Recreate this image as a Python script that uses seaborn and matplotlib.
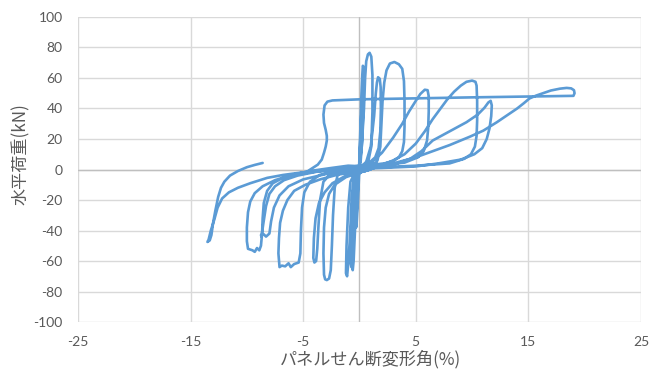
import matplotlib
matplotlib.use("Agg")
import matplotlib.pyplot as plt
import seaborn as sns
import pandas as pd

# ---- hysteresis record: panel shear deformation angle (%) vs horizontal load (kN) ----
# Each cycle is listed as the path it traces, in loading order.
cycle1_x = [0.0, 0.05, 0.15, 0.2, 0.1, 0.0, -0.1, -0.25, -0.3, -0.2, -0.05]
cycle1_y = [0, 15, 35, 38, 20, 3, -15, -35, -38, -20, -2]

cycle2_x = [0.05, 0.15, 0.25, 0.3, 0.38, 0.35, 0.25, 0.1, -0.1, -0.25, -0.4, -0.52, -0.6, -0.66, -0.6, -0.45, -0.2, 0.0]
cycle2_y = [20, 45, 62, 68, 67, 45, 20, 5, 0, -15, -40, -60, -66, -63, -40, -15, -3, 2]

cycle3_x = [0.2, 0.4, 0.5, 0.6, 0.75, 0.9, 1.05, 1.15, 1.15, 1.05, 0.8, 0.3, -0.2, -0.5, -0.7, -0.85, -1.0, -1.1,
            -1.2, -1.15, -1.0, -0.8, -0.4, 0.1]
cycle3_y = [15, 40, 60, 71, 75.5, 76.5, 74, 62, 38, 15, 6, 3, 1, -5, -20, -45, -62, -70,
            -68, -50, -25, -8, -2, 0]

cycle4_x = [0.6, 1.0, 1.3, 1.45, 1.55, 1.65, 1.8, 1.88, 1.9, 1.85, 1.7, 1.4, 0.8, 0.0, -0.3, -0.45, -0.6, -0.72,
            -0.8, -0.75, -0.6, -0.3, 0.3]
cycle4_y = [5, 15, 35, 50, 57, 60.5, 59.5, 54, 40, 25, 14, 8, 4, 2, -5, -25, -50, -64,
            -60, -40, -15, -4, -1]

cycle5_x = [1.2, 1.6, 1.85, 1.95, 2.05, 2.2, 2.4, 2.7, 3.1, 3.5, 3.8, 3.95, 4.0, 4.0, 3.95, 3.8, 3.5, 3.0,
            2.2, 1.0, -0.5, -1.5, -1.95, -2.2, -2.35, -2.45, -2.55, -2.7, -2.9, -3.05, -3.15, -3.2, -3.15,
            -3.0, -2.7, -2.2, -1.2, 0.0, 1.0]
cycle5_y = [2, 6, 15, 30, 45, 57, 65, 69.5, 70.5, 69, 66, 58, 45, 28, 18, 12, 8, 5.5,
            4, 3, 1.5, 0, -4, -12, -30, -50, -66, -71.5, -72.5, -72, -69, -55, -38,
            -25, -16, -10, -5, -2, 0]

cycle6_x = [1.0, 2.0, 3.0, 3.8, 4.4, 5.0, 5.4, 5.8, 6.05, 6.15, 6.15, 6.1, 6.0, 5.7, 5.2, 4.0, 2.0, 0.0, -1.5,
            -2.6, -3.2, -3.5, -3.65, -3.75, -3.85, -4.0, -4.1, -4.05, -3.9, -3.6, -3.1, -2.4, -1.2, 0.5]
cycle6_y = [4, 11, 21, 30, 38, 45, 49.5, 52.3, 52, 48, 38, 27, 19, 12, 8, 4.5, 3, 2, 0,
            -3, -8, -20, -38, -52, -60, -61, -58, -45, -32, -22, -15, -9, -4, -1]

cycle7_x = [2.0, 3.0, 4.0, 5.0, 5.8, 6.5, 7.2, 7.8, 8.4, 9.0, 9.5, 10.0, 10.3, 10.4, 10.45, 10.45, 10.4, 10.25,
            9.9, 9.3, 8.0, 5.0, 2.0, 0.0, -2.0, -3.5, -4.4, -4.9, -5.1, -5.2, -5.25, -5.4, -5.8, -6.1, -6.3,
            -6.6, -6.9, -7.1, -7.2, -7.15, -7.05, -6.8, -6.4, -5.8, -4.8, -3.5, -2.0, 0.0]
cycle7_y = [3, 6, 10, 17, 25, 33, 40, 46, 51, 55, 57.5, 58.3, 57.5, 55, 45, 32, 22, 15,
            10, 7, 4, 2.5, 1.5, 1, -1, -3.5, -8, -15, -25, -40, -55, -61, -62, -64, -61.5,
            -63.5, -63, -64, -55, -45, -35, -27, -20, -14, -10, -6.5, -3.5, -1]

cycle8_x = [1.5, 3.0, 4.5, 5.5, 6.5, 8.0, 9.5, 10.5, 11.1, 11.45, 11.65, 11.75, 11.7, 11.55, 11.3, 10.9, 10.2,
            9.0, 7.0, 5.0, 2.0, 0.0, -2.0, -4.0, -5.5, -6.8, -7.7, -8.2, -8.5, -8.6, -8.65, -8.75, -8.9,
            -9.1, -9.3, -9.5, -9.9, -10.0, -10.0, -9.9, -9.7, -9.3, -8.6, -7.5, -6.0, -4.4, -2.5, -1.0, 0.5]
cycle8_y = [1.5, 3, 7, 12, 19, 25, 31, 36, 40.5, 44, 45, 42, 35, 27, 20, 14, 10,
            6.5, 4, 2, 1, 0.5, -0.5, -1.5, -3, -5.5, -9, -14, -22, -32, -42, -50, -53,
            -51.5, -54, -53, -52, -47, -38, -28, -21, -15.5, -11, -7, -3.5, -1, 1, 2.5, 2]

cycle9_x = [1.5, 0.5, -1.5, -3.5, -5.5, -6.7, -7.5, -8.0, -8.3, -8.55, -8.7, -8.75, -8.5, -8.3, -8.0, -7.85,
            -7.6, -7.1, -6.3, -5.0, -3.0, -0.5, 0.5]
cycle9_y = [4, 3, 1, -1, -4, -7, -11, -16, -24, -36, -44, -43, -42.5, -44, -42, -34,
            -25, -17, -11, -6.5, -3, -1, -1]

final_x = [1.5, 3.0, 4.0, 5.0, 6.3, 8.0, 9.8, 11.0, 12.2, 13.2, 14.0, 14.6, 15.1, 15.7, 16.3, 17.0, 17.8,
           18.4, 18.8, 19.05, 19.1, 19.0, 10.0, 0.0, -2.4, -2.85, -3.1, -3.2, -3.15, -3.0, -2.9, -2.9, -3.0,
           -3.15, -3.35, -3.7, -4.2, -4.7, -5.8, -6.8, -8.2, -9.7, -10.8, -11.6, -12.2, -12.6, -12.9, -13.2,
           -13.4, -13.5, -13.3, -13.15, -13.0, -12.8, -12.55, -12.3, -12.0, -11.5, -10.8, -10.0, -9.3, -8.6]
final_y = [1.5, 4, 6, 8, 11.5, 16, 21.5, 25.5, 31, 36, 40, 43.5, 46.6, 48.5, 50, 51.8, 53,
           53.5, 53.2, 52, 50, 48.3, 47.3, 46.0, 45.3, 44.5, 42, 36, 30.5, 26, 22, 19, 15,
           11, 6.5, 3.2, 0.8, -1.6, -2.6, -3.6, -5.5, -9, -12, -15, -19, -25, -33, -40,
           -46, -47.5, -46.5, -43, -35, -27, -18, -12, -8, -4, -1, 1.5, 3, 4.3]

x_ticks = [-25, -15, -5, 5, 15, 25]
y_ticks = list(range(-100, 101, 20))
x_label = "パネルせん断変形角(%)"
y_label = "水平荷重(kN)"

xs = (cycle1_x + cycle2_x + cycle3_x + cycle4_x + cycle5_x + cycle6_x + cycle7_x
      + cycle8_x + cycle9_x + final_x)
ys = (cycle1_y + cycle2_y + cycle3_y + cycle4_y + cycle5_y + cycle6_y + cycle7_y
      + cycle8_y + cycle9_y + final_y)
df = pd.DataFrame({"angle": xs, "load": ys})

sns.set_theme(style="white")
plt.rcParams["font.family"] = ["Lato", "Noto Sans CJK JP", "DejaVu Sans"]
plt.rcParams["axes.unicode_minus"] = False

fig = plt.figure(figsize=(6.52, 3.76), dpi=100)
ax = fig.add_axes([0.1196, 0.1436, 0.8635, 0.8112])

grid_c = "#D9D9D9"
for xv in x_ticks:
    ax.axvline(xv, color=grid_c, lw=1.0, zorder=0)
for yv in y_ticks:
    ax.axhline(yv, color=grid_c, lw=1.0, zorder=0)
ax.axvline(0, color="#BFBFBF", lw=1.0, zorder=0.5)
ax.axhline(0, color="#BFBFBF", lw=1.0, zorder=0.5)

sns.lineplot(data=df, x="angle", y="load", sort=False, estimator=None,
             color="#5B9BD5", linewidth=1.9, ax=ax, zorder=2)
ax.lines[-1].set_solid_joinstyle("round")
ax.lines[-1].set_solid_capstyle("round")

ax.set_xlim(-25, 25)
ax.set_ylim(-100, 100)
ax.set_xticks(x_ticks)
ax.set_yticks(y_ticks)
ax.tick_params(length=0, labelsize=10, colors="#595959")
ax.tick_params(axis="y", pad=11)
ax.tick_params(axis="x", pad=10)
for s in ax.spines.values():
    s.set_visible(False)

ax.set_xlabel(x_label, fontsize=12.3, color="#595959", family=["Noto Sans CJK JP", "DejaVu Sans"])
ax.set_ylabel(y_label, fontsize=12.3, color="#595959", family=["Noto Sans CJK JP", "DejaVu Sans"])
ax.xaxis.set_label_coords(0.52, -0.09)
ax.yaxis.set_label_coords(-0.086, 0.55)

fig.savefig("out.png", dpi=100)
